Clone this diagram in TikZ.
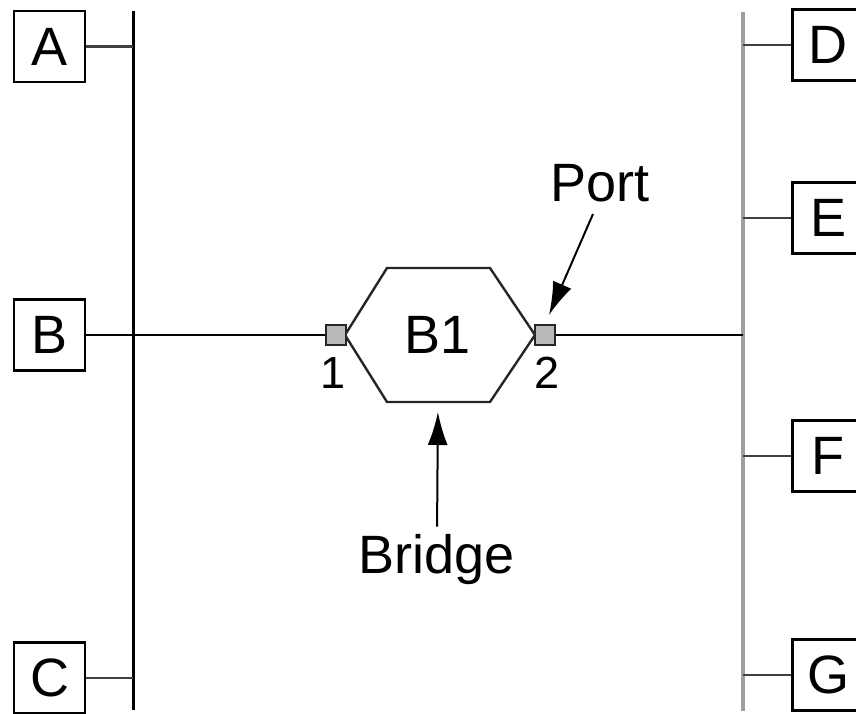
\documentclass[tikz,border=0pt]{standalone}
\usepackage{fontspec}
\setmainfont{Liberation Sans}
\usepackage{xcolor}
\usetikzlibrary{arrows.meta,positioning}

\begin{document}
\begin{tikzpicture}[
  x=1pt, y=-1pt,
  on grid,
  % Node styles
  station/.style={rectangle, draw=black, line width=2.4pt, fill=white, minimum size=71pt, inner sep=0pt, font=\fontsize{54}{60}\selectfont},
  port/.style={rectangle, draw=black!85, line width=1.6pt, fill=gray!55, minimum size=20pt, inner sep=0pt},
  portnum/.style={inner sep=0pt, font=\fontsize{45}{50}\selectfont},
  callout/.style={inner sep=0pt, font=\fontsize{54}{60}\selectfont},
  lan/.style={line width=3pt, draw=black},
  lanb/.style={line width=4pt, draw=gray!75},
  stub/.style={line width=2.4pt, draw=black!75},
  hexa/.style={line width=2.4pt, draw=black!85},
  wire/.style={line width=2pt, draw=black},
  arr/.style={-{Latex[length=33pt,width=20pt]}, line width=2pt, shorten >=10pt}
]
  \useasboundingbox (0,0) rectangle (856,714);

  % LAN 1 (left)
  \coordinate (l1top) at (133,11);
  \coordinate (l1bot) at (133,710);
  \draw[lan] (l1top) -- (l1bot);
  \node[station] (A) at (49.5,46.5) {A};
  \node[station] (B) at (49.5,335) {B};
  \node[station] (C) at (49.5,678) {C};
  \draw[stub] (A.east) -- (A.east -| l1top);
  \draw[stub] (C.east) -- (C.east -| l1top);

  % LAN 2 (right)
  \coordinate (l2top) at (743,12);
  \coordinate (l2bot) at (743,711);
  \draw[lanb] (l2top) -- (l2bot);
  \node[station] (D) at (828,45) {D};
  \node[station] (E) at (828,218) {E};
  \node[station] (F) at (828,456) {F};
  \node[station] (G) at (828,675) {G};
  \foreach \s in {D,E,F,G}
    \draw[stub] (\s.west) -- (\s.west -| l2top);

  % Bridge
  \draw[hexa] (345,335) -- (387,268) -- (490,268) -- (535,335) -- (490,402) -- (387,402) -- cycle;
  \node[callout] (b1) at (438,335) {B1};
  \node[port] (p1) at (336,335) {};
  \node[port] (p2) at (545,335) {};
  \node[portnum, below=38pt of p1, xshift=-3pt] (n1) {1};
  \node[portnum, below=38pt of p2, xshift=2pt] (n2) {2};

  % Connections
  \draw[wire] (B.east) -- (p1.west);
  \draw[wire] (p2.east) -- (p2.east -| l2top);

  % Callouts
  \node[callout] (portlbl) at (600,183) {Port};
  \node[callout] (bridgelbl) at (437,560) {Bridge};
  \draw[arr] ([xshift=-7pt, yshift=-12pt]portlbl.south) -- (p2.north);
  \draw[arr, shorten <=8pt] (bridgelbl.north) -- (b1 |- 402,402);

\end{tikzpicture}
\end{document}
